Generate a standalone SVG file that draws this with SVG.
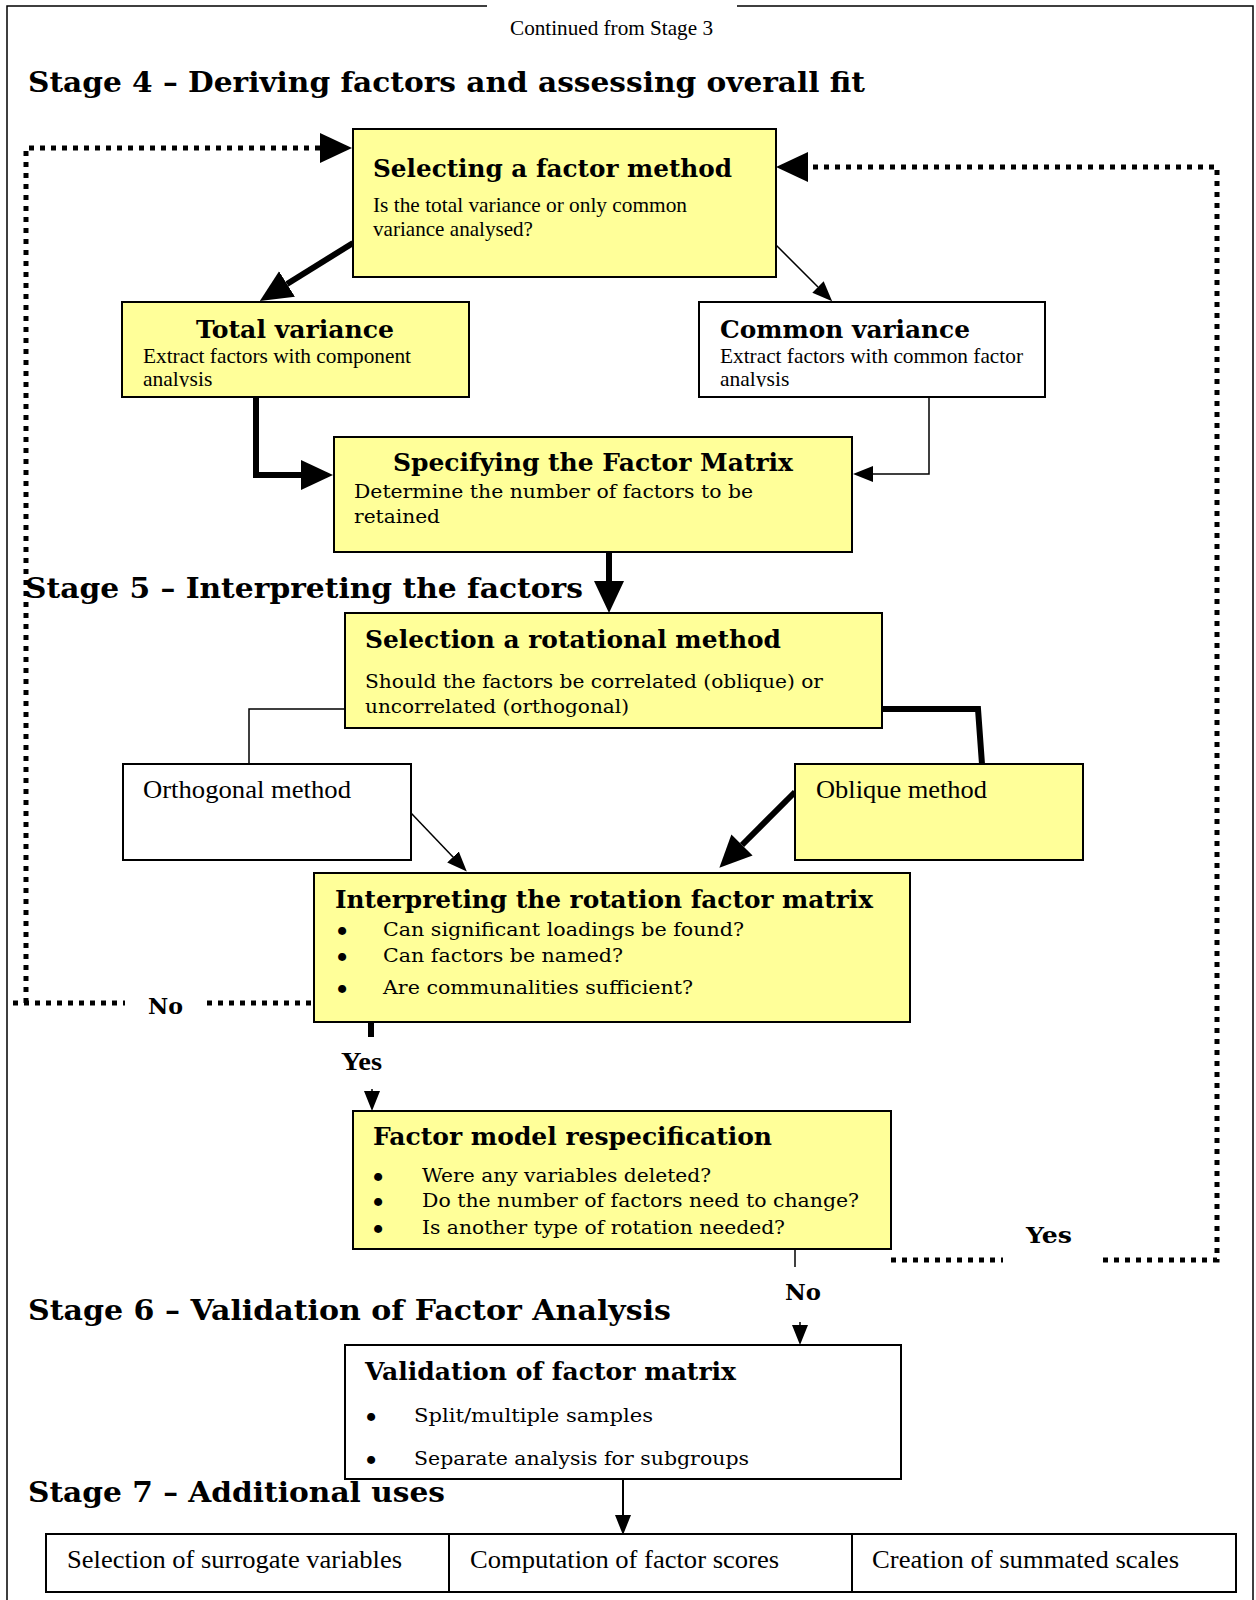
<svg xmlns="http://www.w3.org/2000/svg" width="1256" height="1600" viewBox="0 0 1256 1600">
  <style>
    .box{stroke:#000;stroke-width:2}
    .y{fill:#ffff99}
    .w{fill:#fff}
    .h{font-family:"DejaVu Serif",serif;font-weight:bold;font-size:28.5px;fill:#000}
    .t{font-family:"DejaVu Serif",serif;font-weight:bold;font-size:24px;fill:#000}
    .b{font-family:"DejaVu Serif",serif;font-size:19px;fill:#000}
    .dotb{font-family:"DejaVu Serif",serif;font-weight:bold;font-size:23px;fill:#000;text-anchor:middle}
    .r{font-family:"Liberation Serif","Times New Roman",serif;font-size:21.5px;fill:#000}
    .rb{font-family:"Liberation Serif","Times New Roman",serif;font-size:26px;fill:#000}
    .lb{font-family:"DejaVu Serif",serif;font-weight:bold;font-size:22px;fill:#000}
    .lt{font-family:"Liberation Serif",serif;font-weight:bold;font-size:25px;fill:#000}
    .ln{fill:none;stroke:#000;stroke-width:1.5}
    .thick{stroke-width:6}
    .dot{stroke-width:5;stroke-dasharray:5 6}
    .frame{fill:none;stroke:#000;stroke-width:1.5}
  </style>
  <defs>
    <marker id="headBig" markerUnits="userSpaceOnUse" viewBox="0 -16 32 32" refX="0" refY="0" markerWidth="32" markerHeight="32" orient="auto">
      <path d="M0,-15 L32,0 L0,15 Z" fill="#000"/>
    </marker>
    <marker id="headSmall" markerUnits="userSpaceOnUse" viewBox="0 -9 20 18" refX="0" refY="0" markerWidth="20" markerHeight="18" orient="auto">
      <path d="M0,-8 L20,0 L0,8 Z" fill="#000"/>
    </marker>
    <clipPath id="clipTotal"><rect x="122" y="302" width="347" height="85"/></clipPath>
    <clipPath id="clipCommon"><rect x="699" y="302" width="346" height="85"/></clipPath>
    <clipPath id="clipValid"><rect x="345" y="1345" width="556" height="124"/></clipPath>
  </defs>

  <rect width="1256" height="1600" fill="#fff"/>

  <!-- page frame, open at the top where the continuation note sits -->
  <path class="frame" d="M487,6 H7 V1600 M737,6 H1253 V1600"/>

  <text class="r" x="510" y="35" textLength="203" lengthAdjust="spacingAndGlyphs">Continued from Stage 3</text>

  <!-- stage headings -->
  <g id="headings">
    <text class="h" x="28" y="92" textLength="837" lengthAdjust="spacingAndGlyphs">Stage 4 – Deriving factors and assessing overall fit</text>
    <text class="h" x="25" y="598" textLength="558" lengthAdjust="spacingAndGlyphs">Stage 5 – Interpreting the factors</text>
    <text class="h" x="28" y="1320" textLength="643" lengthAdjust="spacingAndGlyphs">Stage 6 – Validation of Factor Analysis</text>
    <text class="h" x="28" y="1502" textLength="417" lengthAdjust="spacingAndGlyphs">Stage 7 – Additional uses</text>
  </g>

  <!-- connectors -->
  <g id="connectors">
    <!-- "No" loop back to the factor method -->
    <path class="ln dot" d="M13,1003 H125"/>
    <path class="ln dot" d="M207,1003 H314"/>
    <path class="ln dot" d="M26,1003 V148 H320" marker-end="url(#headBig)"/>
    <!-- "Yes" loop back to the factor method -->
    <path class="ln dot" d="M891,1260 H1003"/>
    <path class="ln dot" d="M1103,1260 H1217 V167 H808" marker-end="url(#headBig)"/>

    <path class="ln thick" d="M353,243 L287,284" marker-end="url(#headBig)"/>
    <path class="ln" d="M776,245 L818,287" marker-end="url(#headSmall)"/>
    <path class="ln thick" d="M256,397 V475 H301" marker-end="url(#headBig)"/>
    <path class="ln" d="M929,397 V474 H873" marker-end="url(#headSmall)"/>
    <path class="ln thick" d="M609,552 V581" marker-end="url(#headBig)"/>
    <path class="ln" d="M345,709 H249 V764"/>
    <path class="ln thick" d="M882,709 H978 L982,764"/>
    <path class="ln" d="M411,813 L453,857" marker-end="url(#headSmall)"/>
    <path class="ln thick" d="M795,792 L742,845" marker-end="url(#headBig)"/>
    <!-- Yes / No exits -->
    <path class="ln thick" d="M371,1022 V1037"/>
    <path class="ln" d="M372,1089 V1091" marker-end="url(#headSmall)"/>
    <path class="ln" d="M795,1246 V1267"/>
    <path class="ln" d="M800,1322 V1325" marker-end="url(#headSmall)"/>
    <path class="ln" style="stroke-width:2" d="M623,1479 V1515" marker-end="url(#headSmall)"/>

    <text class="lb" x="148" y="1014" textLength="35" lengthAdjust="spacingAndGlyphs">No</text>
    <text class="lt" x="341" y="1070" textLength="41" lengthAdjust="spacingAndGlyphs">Yes</text>
    <text class="lb" x="785" y="1300" textLength="36" lengthAdjust="spacingAndGlyphs">No</text>
    <text class="lb" x="1026" y="1243" textLength="46" lengthAdjust="spacingAndGlyphs">Yes</text>
  </g>

  <g id="selecting-method">
    <rect class="box y" x="353" y="129" width="423" height="148"/>
    <text class="t" x="373" y="177" textLength="359" lengthAdjust="spacingAndGlyphs">Selecting a factor method</text>
    <text class="r" x="373" y="212" textLength="314" lengthAdjust="spacingAndGlyphs">Is the total variance or only common</text>
    <text class="r" x="373" y="236" textLength="160" lengthAdjust="spacingAndGlyphs">variance analysed?</text>
  </g>

  <g id="total-variance">
    <rect class="box y" x="122" y="302" width="347" height="95"/>
    <text class="t" x="196" y="338" textLength="198" lengthAdjust="spacingAndGlyphs">Total variance</text>
    <g clip-path="url(#clipTotal)">
      <text class="r" x="143" y="363" textLength="268" lengthAdjust="spacingAndGlyphs">Extract factors with component</text>
      <text class="r" x="143" y="386">analysis</text>
    </g>
  </g>

  <g id="common-variance">
    <rect class="box w" x="699" y="302" width="346" height="95"/>
    <text class="t" x="720" y="338" textLength="250" lengthAdjust="spacingAndGlyphs">Common variance</text>
    <g clip-path="url(#clipCommon)">
      <text class="r" x="720" y="363" textLength="303" lengthAdjust="spacingAndGlyphs">Extract factors with common factor</text>
      <text class="r" x="720" y="386">analysis</text>
    </g>
  </g>

  <g id="factor-matrix">
    <rect class="box y" x="334" y="437" width="518" height="115"/>
    <text class="t" x="393" y="471" textLength="400" lengthAdjust="spacingAndGlyphs">Specifying the Factor Matrix</text>
    <text class="b" x="354" y="498" textLength="399" lengthAdjust="spacingAndGlyphs">Determine the number of factors to be</text>
    <text class="b" x="354" y="523" textLength="86" lengthAdjust="spacingAndGlyphs">retained</text>
  </g>

  <g id="rotational-method">
    <rect class="box y" x="345" y="613" width="537" height="115"/>
    <text class="t" x="365" y="648" textLength="416" lengthAdjust="spacingAndGlyphs">Selection a rotational method</text>
    <text class="b" x="365" y="688" textLength="458" lengthAdjust="spacingAndGlyphs">Should the factors be correlated (oblique) or</text>
    <text class="b" x="365" y="713" textLength="264" lengthAdjust="spacingAndGlyphs">uncorrelated (orthogonal)</text>
  </g>

  <g id="orthogonal">
    <rect class="box w" x="123" y="764" width="288" height="96"/>
    <text class="rb" x="143" y="798" textLength="208" lengthAdjust="spacingAndGlyphs">Orthogonal method</text>
  </g>

  <g id="oblique">
    <rect class="box y" x="795" y="764" width="288" height="96"/>
    <text class="rb" x="816" y="798" textLength="171" lengthAdjust="spacingAndGlyphs">Oblique method</text>
  </g>

  <g id="interpreting">
    <rect class="box y" x="314" y="873" width="596" height="149"/>
    <text class="t" x="335" y="908" textLength="538" lengthAdjust="spacingAndGlyphs">Interpreting the rotation factor matrix</text>
    <text class="dotb" x="342" y="939">•</text>
    <text class="b" x="383" y="936" textLength="361" lengthAdjust="spacingAndGlyphs">Can significant loadings be found?</text>
    <text class="dotb" x="342" y="965">•</text>
    <text class="b" x="383" y="962" textLength="240" lengthAdjust="spacingAndGlyphs">Can factors be named?</text>
    <text class="dotb" x="342" y="997">•</text>
    <text class="b" x="383" y="994" textLength="310" lengthAdjust="spacingAndGlyphs">Are communalities sufficient?</text>
  </g>

  <g id="respecification">
    <rect class="box y" x="353" y="1111" width="538" height="138"/>
    <text class="t" x="373" y="1145" textLength="399" lengthAdjust="spacingAndGlyphs">Factor model respecification</text>
    <text class="dotb" x="378" y="1185">•</text>
    <text class="b" x="422" y="1182" textLength="289" lengthAdjust="spacingAndGlyphs">Were any variables deleted?</text>
    <text class="dotb" x="378" y="1210">•</text>
    <text class="b" x="422" y="1207" textLength="437" lengthAdjust="spacingAndGlyphs">Do the number of factors need to change?</text>
    <text class="dotb" x="378" y="1237">•</text>
    <text class="b" x="422" y="1234" textLength="363" lengthAdjust="spacingAndGlyphs">Is another type of rotation needed?</text>
  </g>

  <g id="validation">
    <rect class="box w" x="345" y="1345" width="556" height="134"/>
    <text class="t" x="365" y="1380" textLength="371" lengthAdjust="spacingAndGlyphs">Validation of factor matrix</text>
    <g clip-path="url(#clipValid)">
      <text class="dotb" x="371" y="1425">•</text>
      <text class="b" x="414" y="1422" textLength="239" lengthAdjust="spacingAndGlyphs">Split/multiple samples</text>
      <text class="dotb" x="371" y="1468">•</text>
      <text class="b" x="414" y="1465" textLength="335" lengthAdjust="spacingAndGlyphs">Separate analysis for subgroups</text>
    </g>
  </g>

  <g id="surrogate-variables">
    <rect class="box w" x="46" y="1534" width="403" height="58"/>
    <text class="rb" x="67" y="1568" textLength="335" lengthAdjust="spacingAndGlyphs">Selection of surrogate variables</text>
  </g>
  <g id="factor-scores">
    <rect class="box w" x="449" y="1534" width="403" height="58"/>
    <text class="rb" x="470" y="1568" textLength="309" lengthAdjust="spacingAndGlyphs">Computation of factor scores</text>
  </g>
  <g id="summated-scales">
    <rect class="box w" x="852" y="1534" width="384" height="58"/>
    <text class="rb" x="872" y="1568" textLength="307" lengthAdjust="spacingAndGlyphs">Creation of summated scales</text>
  </g>
</svg>
